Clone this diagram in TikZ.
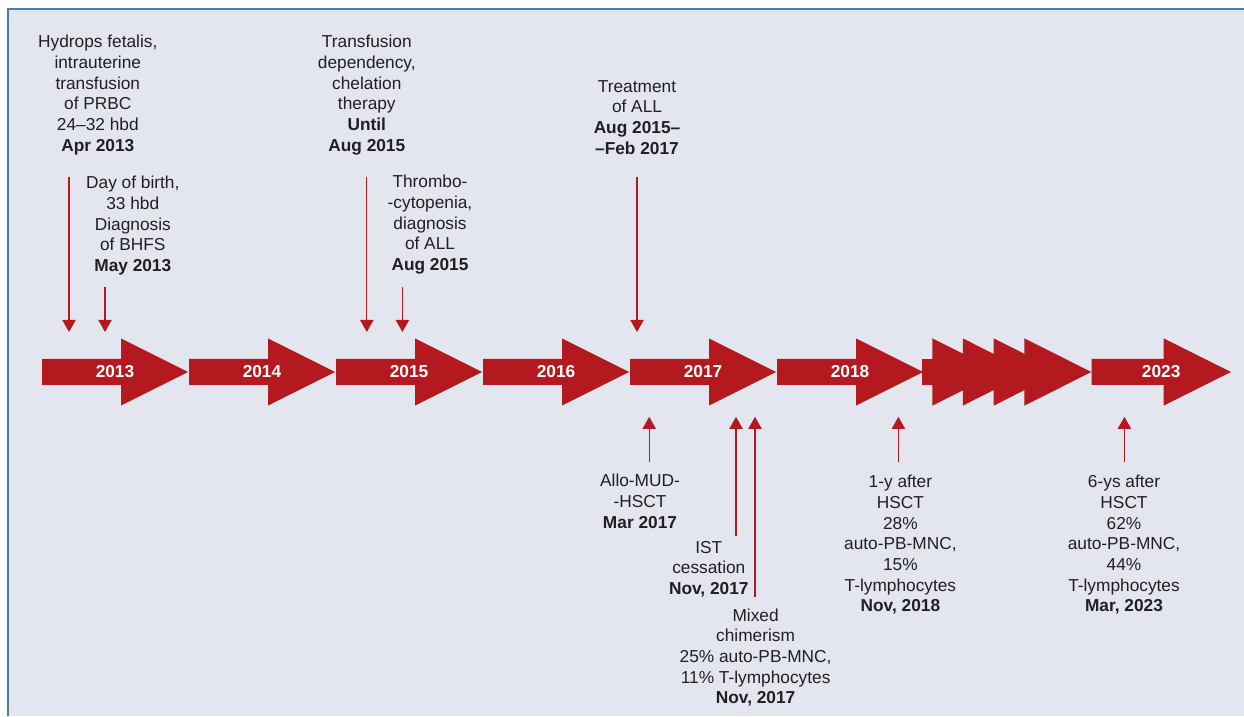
\documentclass[tikz,border=0pt]{standalone}
\usepackage{fontspec}
\setmainfont{Liberation Sans}
\usepackage{tikz}
\usetikzlibrary{arrows.meta}
\definecolor{tlred}{HTML}{B3191E}
\definecolor{panel}{HTML}{E3E6EF}
\definecolor{frame}{HTML}{4A7EA6}
\definecolor{ink}{HTML}{231F20}

\begin{document}
\begin{tikzpicture}[
    every node/.style={font=\fontsize{12.3}{14.7}\selectfont, text=ink},
    event/.style={align=center, inner sep=0pt, anchor=north},
    yearlab/.style={font=\fontsize{12.3}{14.7}\selectfont\bfseries, text=white, inner sep=0pt},
    pointer/.style={-{Triangle[width=3.3mm, length=3mm]}, line width=0.9pt, color=tlred}
]
\useasboundingbox (0,0) rectangle (31.1,17.9);
% Panel
\fill[panel] (0.2,0) rectangle (31.1,17.675);
\draw[frame, line width=1.6pt] (0.2,0) -- (0.2,17.675) -- (31.1,17.675);

% Year arrows
\foreach \x/\yr in {1.05/2013, 4.725/2014, 8.4/2015, 12.075/2016, 15.75/2017, 19.425/2018} {
  \fill[tlred] (\x,8.275) -- ++(1.975,0) -- ++(0,-0.515) -- ++(1.675,0.84) -- ++(-1.675,0.84) -- ++(0,-0.515) -- (\x,8.925) -- cycle;
  \node[yearlab] (y\yr) at (\x+1.825,8.6) {\yr};
}
% Skipped years
\fill[tlred] (23.06,8.275) rectangle (23.4,8.925);
\foreach \x in {23.31, 24.07, 24.84, 25.61} {
  \fill[tlred] (\x,7.76) -- (\x+1.675,8.6) -- (\x,9.44) -- cycle;
}
\fill[tlred] (27.29,8.275) -- (29.09,8.275) -- (29.09,7.76) -- (30.775,8.6) -- (29.09,9.44) -- (29.09,8.925) -- (27.29,8.925) -- cycle;
\node[yearlab] (y2023) at (29.03,8.6) {2023};

% Events above
\node[event] (hyd)  at (2.445,17.025) {Hydrops fetalis,\\intrauterine\\transfusion\\of PRBC\\24--32 hbd\\\textbf{Apr 2013}};
\node[event] (dob)  at (3.32,13.5)    {Day of birth,\\33 hbd\\Diagnosis\\of BHFS\\\textbf{May 2013}};
\node[event] (chel) at (9.17,17.025)  {Transfusion\\dependency,\\chelation\\therapy\\\textbf{Until}\\\textbf{Aug 2015}};
\node[event] (thr)  at (10.75,13.525) {Thrombo-\\-cytopenia,\\diagnosis\\of ALL\\\textbf{Aug 2015}};
\node[event] (all)  at (15.925,15.9)  {Treatment\\of ALL\\\textbf{Aug 2015--}\\\textbf{--Feb 2017}};

% Events below
\node[event] (hsct) at (16.0,6.05)   {Allo-MUD-\\-HSCT\\\textbf{Mar 2017}};
\node[event] (ist)  at (17.72,4.383) {IST\\cessation\\\textbf{Nov, 2017}};
\node[event] (mix)  at (18.89,2.69)  {Mixed\\chimerism\\25\% auto-PB-MNC,\\11\% T-lymphocytes\\\textbf{Nov, 2017}};
\node[event] (one)  at (22.51,6.025) {1-y after\\HSCT\\28\%\\auto-PB-MNC,\\15\%\\T-lymphocytes\\\textbf{Nov, 2018}};
\node[event] (six)  at (28.1,6.025)  {6-ys after\\HSCT\\62\%\\auto-PB-MNC,\\44\%\\T-lymphocytes\\\textbf{Mar, 2023}};

% Pointer ends
\coordinate (top) at (0,9.6);
\coordinate (bot) at (0,7.48);
\coordinate (phyd)  at (1.725,13.48);
\coordinate (pdob)  at (2.625,10.725);
\coordinate (pchel) at (9.17,13.48);
\coordinate (pthr)  at (10.06,10.725);
\coordinate (pall)  at (15.925,13.48);
\coordinate (phsct) at (16.23,6.34);
\coordinate (pist)  at (18.4,4.5);
\coordinate (pmix)  at (18.875,2.97);
\coordinate (pone)  at (22.46,6.34);
\coordinate (psix)  at (28.11,6.34);

% Pointers
\foreach \p in {phyd, pdob, pchel, pthr, pall} \draw[pointer] (\p) -- (\p |- top);
\foreach \p in {phsct, pist, pmix, pone, psix} \draw[pointer] (\p) -- (\p |- bot);
\end{tikzpicture}
\end{document}
